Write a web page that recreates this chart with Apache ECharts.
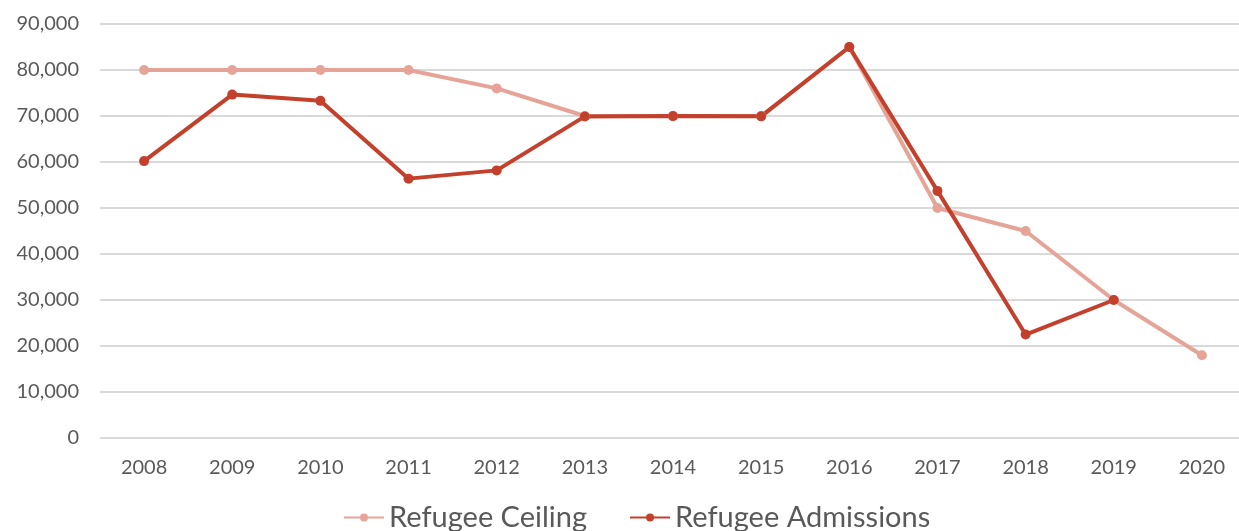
<!DOCTYPE html>
<html><head><meta charset="utf-8">
<script src="https://cdn.jsdelivr.net/npm/echarts@6/dist/echarts.min.js"></script>
<style>html,body{margin:0;padding:0;background:#fff;overflow:hidden;width:1239px;height:531px}#c{width:1260px;height:531px}</style>
</head><body><div id="c"></div>
<script>
const years = ['2008','2009','2010','2011','2012','2013','2014','2015','2016','2017','2018','2019','2020'];
const ceiling = [80000,80000,80000,80000,76000,70000,70000,70000,85000,50000,45000,30000,18000];
const admissions = [60192,74652,73293,56384,58179,69909,69975,69920,84989,53716,22491,30000,null];
const chart = echarts.init(document.getElementById('c'));
const font = 'Lato, "Open Sans", sans-serif';
chart.setOption({
  animation:false,
  grid:{left:100,width:1146,top:24,bottom:93},
  legend:{top:498,left:338,itemGap:42,itemWidth:40,itemHeight:10,
    textStyle:{fontFamily:font,fontSize:29,color:'#595959'},
    data:['Refugee Ceiling','Refugee Admissions']},
  xAxis:{type:'category',data:years,boundaryGap:true,
    axisLine:{show:false},axisTick:{show:false},
    axisLabel:{fontFamily:font,fontSize:20,color:'#595959',margin:20}},
  yAxis:{type:'value',min:0,max:90000,interval:10000,
    axisLine:{show:false},axisTick:{show:false},
    splitLine:{lineStyle:{color:'#d9d9d9',width:2}},
    axisLabel:{fontFamily:font,fontSize:20,color:'#595959',margin:21,
      formatter:v=>v.toLocaleString('en-US')}},
  series:[
    {name:'Refugee Ceiling',type:'line',data:ceiling,symbol:'circle',symbolSize:10,
     lineStyle:{color:'#E6A498',width:4},itemStyle:{color:'#E6A498'}},
    {name:'Refugee Admissions',type:'line',data:admissions,symbol:'circle',symbolSize:10,
     lineStyle:{color:'#C3402C',width:4},itemStyle:{color:'#C3402C'}}
  ]
});
</script></body></html>
